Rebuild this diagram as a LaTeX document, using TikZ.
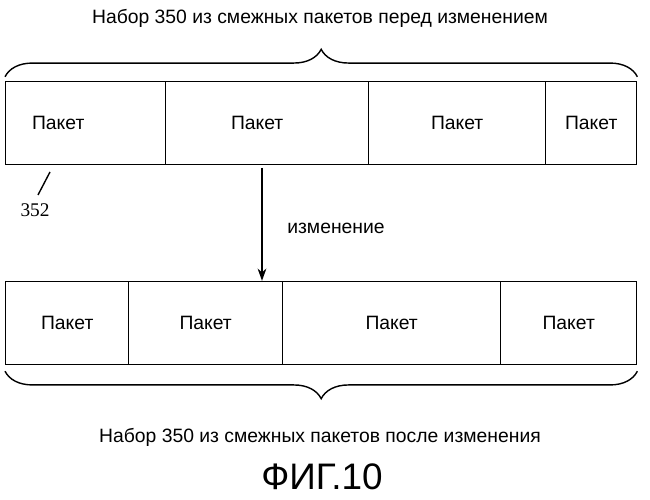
\documentclass[tikz,border=0pt]{standalone}
\usepackage{fontspec}
\setmainfont{Liberation Sans}
\newfontfamily\numfont{Liberation Serif}
\usetikzlibrary{positioning,decorations.pathreplacing,arrows.meta}
\tikzset{
	every path/.style={line width=0.8pt},
	cell/.style={
		draw,
		rectangle,
		anchor=west,
		minimum height=1.66cm,
		inner sep=0pt,
		font=\fontsize{11}{13}\selectfont,
	},
	caption/.style={font=\fontsize{11}{13}\selectfont},
	setbrace/.style={
		decorate,
		decoration={brace,amplitude=0.55cm},
	},
	change/.style={
		-{Stealth[length=7pt,width=5pt]}
	},
}

\begin{document}
\begin{tikzpicture}[x=0.02cm,y=-0.02cm]
	\useasboundingbox (0,0) rectangle (650,500);

	\node[caption] (before) at (320,18) {Набор 350 из смежных пакетов перед изменением};

	\node[cell,minimum width=3.2cm]  (a1) at (5,123)   {\hspace*{-1.1cm}Пакет};
	\node[cell,minimum width=4.06cm] (a2) at (165,123) {\hspace*{-0.4cm}Пакет};
	\node[cell,minimum width=3.54cm] (a3) at (368,123) {Пакет};
	\node[cell,minimum width=1.82cm] (a4) at (545,123) {Пакет};

	\draw[setbrace] (a1.north west) ++(0,-4) coordinate (ta) (ta) -- (a4.north east |- ta);

	\node[font=\numfont\fontsize{11}{13}\selectfont] (num) at (35,210) {352};
	\coordinate (tick) at (50,172);
	\draw (num.north) ++(3,-2) -- (tick);

	\node[cell,minimum width=2.46cm] (b1) at (5,323)   {Пакет};
	\node[cell,minimum width=3.08cm] (b2) at (128,323) {Пакет};
	\node[cell,minimum width=4.36cm] (b3) at (282,323) {Пакет};
	\node[cell,minimum width=2.72cm] (b4) at (500,323) {Пакет};

	\coordinate (top) at (262,168);
	\draw[change] (top) -- (top |- b2.north);
	\node[caption] (chg) at (336,228) {изменение};

	\draw[setbrace] (b4.south east) ++(0,6) coordinate (tb) (tb) -- (b1.south west |- tb);

	\node[caption] (after) at (320,437) {Набор 350 из смежных пакетов после изменения};
	\node[font=\fontsize{21}{25}\selectfont] (fig) at (322,477) {ФИГ.10};
\end{tikzpicture}
\end{document}
